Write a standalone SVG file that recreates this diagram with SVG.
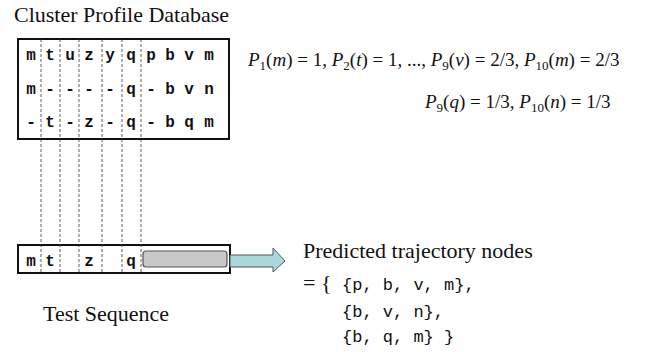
<svg xmlns="http://www.w3.org/2000/svg" width="646" height="352" viewBox="0 0 646 352">
<style>
.ser{font-family:"Liberation Serif","Times New Roman",serif;fill:#111}
.t20{font-size:22px}
.m{font-family:"Liberation Mono","Courier New",monospace;font-weight:bold;font-size:16px;text-anchor:middle;fill:#111}
.mono{font-family:"Liberation Mono","Courier New",monospace;font-size:17px}
.box{fill:#fff;stroke:#111;stroke-width:2}
.dash{stroke:#333;stroke-width:0.8;stroke-dasharray:3,2;fill:none}
.math{font-size:19px}
.it{font-style:italic}
.sub{font-size:13px}
</style>
<rect width="646" height="352" fill="#fff"/>
<text class="ser t20" x="14" y="22">Cluster Profile Database</text>
<g id="database">
<rect class="box" x="18" y="39" width="211" height="100"/>
<g>
<text class="m" x="31" y="60">m</text><text class="m" x="50" y="60">t</text><text class="m" x="70" y="60">u</text><text class="m" x="89" y="60">z</text><text class="m" x="110" y="60">y</text><text class="m" x="131" y="60">q</text><text class="m" x="151" y="60">p</text><text class="m" x="170" y="60">b</text><text class="m" x="189" y="60">v</text><text class="m" x="209" y="60">m</text>
<text class="m" x="31" y="94">m</text><text class="m" x="50" y="94">-</text><text class="m" x="70" y="94">-</text><text class="m" x="89" y="94">-</text><text class="m" x="110" y="94">-</text><text class="m" x="131" y="94">q</text><text class="m" x="151" y="94">-</text><text class="m" x="170" y="94">b</text><text class="m" x="189" y="94">v</text><text class="m" x="209" y="94">n</text>
<text class="m" x="31" y="127">-</text><text class="m" x="50" y="127">t</text><text class="m" x="70" y="127">-</text><text class="m" x="89" y="127">z</text><text class="m" x="110" y="127">-</text><text class="m" x="131" y="127">q</text><text class="m" x="151" y="127">-</text><text class="m" x="170" y="127">b</text><text class="m" x="189" y="127">q</text><text class="m" x="209" y="127">m</text>
</g>
</g>
<g id="test-sequence">
<rect class="box" x="18" y="245" width="212" height="28"/>
<rect x="143" y="251" width="84" height="16" rx="3" fill="#c8c8c8" stroke="#555" stroke-width="1.2"/>
<text class="m" x="31" y="266">m</text><text class="m" x="50" y="266">t</text><text class="m" x="89" y="266">z</text><text class="m" x="131" y="266">q</text>
</g>
<g id="connectors">
<path class="dash" d="M41 39V273M60 39V273M79 39V273M102 39V273M122 39V273M141 39V273"/>
<polygon points="230,255 273,255 273,248 285,261 273,272 273,267 230,267" fill="#a9d8dc" stroke="#555" stroke-width="1"/>
</g>
<text class="ser t20" x="43" y="321">Test Sequence</text>
<g id="probabilities" class="ser math">
<text x="248" y="66"><tspan class="it">P</tspan><tspan class="sub" dy="4">1</tspan><tspan dy="-4">(</tspan><tspan class="it">m</tspan>) = 1, <tspan class="it">P</tspan><tspan class="sub" dy="4">2</tspan><tspan dy="-4">(</tspan><tspan class="it">t</tspan>) = 1, ..., <tspan class="it">P</tspan><tspan class="sub" dy="4">9</tspan><tspan dy="-4">(</tspan><tspan class="it">v</tspan>) = 2/3, <tspan class="it">P</tspan><tspan class="sub" dy="4">10</tspan><tspan dy="-4">(</tspan><tspan class="it">m</tspan>) = 2/3</text>
<text x="425" y="108"><tspan class="it">P</tspan><tspan class="sub" dy="4">9</tspan><tspan dy="-4">(</tspan><tspan class="it">q</tspan>) = 1/3, <tspan class="it">P</tspan><tspan class="sub" dy="4">10</tspan><tspan dy="-4">(</tspan><tspan class="it">n</tspan>) = 1/3</text>
</g>
<g id="prediction" class="ser t20">
<text x="303" y="258">Predicted trajectory nodes</text>
<text x="303" y="290">= {</text>
<text class="mono" x="342" y="290" xml:space="preserve">{p, b, v, m},</text>
<text class="mono" x="342" y="317" xml:space="preserve">{b, v, n},</text>
<text class="mono" x="342" y="342" xml:space="preserve">{b, q, m} }</text>
</g>
</svg>
